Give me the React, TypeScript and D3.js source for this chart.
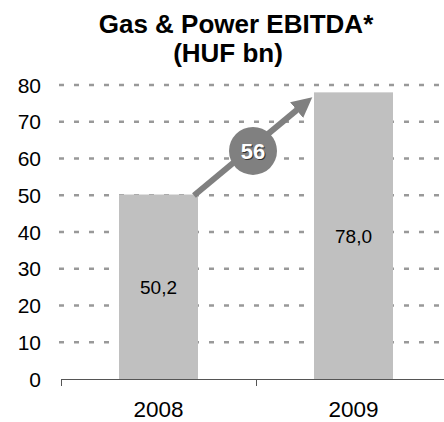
import React, { useEffect, useRef } from "react";
import * as d3 from "d3";

const years = ["2008", "2009"];
const ebitda = [50.2, 78.0];
const valueLabels = ["50,2", "78,0"];
const yTicks = [0, 10, 20, 30, 40, 50, 60, 70, 80];
const growthLabel = "56";
const titleLines = ["Gas & Power EBITDA*", "(HUF bn)"];

const theme = {
  bar: "#c0c0c0",
  grid: "#999999",
  axis: "#555555",
  text: "#000000",
  arrow: "#808080",
  font: "Arial, 'Liberation Sans', sans-serif",
};

const App = () => {
  const svgRef = useRef<SVGSVGElement | null>(null);

  useEffect(() => {
    const width = 444;
    const height = 422;
    const svg = d3.select(svgRef.current);
    svg.selectAll("*").remove();
    svg.attr("width", width).attr("height", height);

    svg.append("rect").attr("width", width).attr("height", height).attr("fill", "#fff");

    // scales: plot runs past the right edge like the original slide
    const x = d3.scaleBand().domain(years).range([61, 451]).paddingInner(0.595).paddingOuter(0.2975);
    const y = d3.scaleLinear().domain([0, 80]).range([379, 85]);

    // title
    svg
      .append("g")
      .selectAll("text")
      .data(titleLines)
      .enter()
      .append("text")
      .attr("x", (d, i) => (i === 0 ? 236 : 228))
      .attr("y", (d, i) => 33 + i * 29)
      .attr("text-anchor", "middle")
      .attr("fill", theme.text)
      .style("font-family", theme.font)
      .style("font-size", "26px")
      .style("font-weight", "bold")
      .text((d) => d);

    // dashed gridlines
    svg
      .append("g")
      .selectAll("line")
      .data(yTicks.filter((t) => t > 0))
      .enter()
      .append("line")
      .attr("x1", 59)
      .attr("x2", width)
      .attr("y1", (d) => y(d))
      .attr("y2", (d) => y(d))
      .attr("stroke", theme.grid)
      .attr("stroke-width", 2.5)
      .attr("stroke-dasharray", "5 10");

    // y labels
    svg
      .append("g")
      .selectAll("text")
      .data(yTicks)
      .enter()
      .append("text")
      .attr("x", 41)
      .attr("y", (d) => y(d) + 7.5)
      .attr("text-anchor", "end")
      .attr("fill", theme.text)
      .style("font-family", theme.font)
      .style("font-size", "21px")
      .text((d) => d);

    // bars
    svg
      .append("g")
      .selectAll("rect")
      .data(ebitda)
      .enter()
      .append("rect")
      .attr("x", (d, i) => x(years[i])!)
      .attr("y", (d) => y(d))
      .attr("width", x.bandwidth())
      .attr("height", (d) => y(0) - y(d))
      .attr("fill", theme.bar);

    // value labels
    svg
      .append("g")
      .selectAll("text")
      .data(ebitda)
      .enter()
      .append("text")
      .attr("x", (d, i) => x(years[i])! + x.bandwidth() / 2)
      .attr("y", (d) => (y(d) + y(0)) / 2 + 7)
      .attr("text-anchor", "middle")
      .attr("fill", theme.text)
      .style("font-family", theme.font)
      .style("font-size", "19px")
      .text((d, i) => valueLabels[i]);

    // x axis
    svg
      .append("line")
      .attr("x1", 61)
      .attr("x2", width)
      .attr("y1", y(0) + 0.5)
      .attr("y2", y(0) + 0.5)
      .attr("stroke", theme.axis)
      .attr("stroke-width", 1);

    const step = x.step();
    svg
      .append("g")
      .selectAll("line")
      .data([61, 61 + step])
      .enter()
      .append("line")
      .attr("x1", (d) => d + 0.5)
      .attr("x2", (d) => d + 0.5)
      .attr("y1", y(0))
      .attr("y2", y(0) + 7)
      .attr("stroke", theme.axis);

    svg
      .append("g")
      .selectAll("text")
      .data(years)
      .enter()
      .append("text")
      .attr("x", (d) => x(d)! + x.bandwidth() / 2)
      .attr("y", 417)
      .attr("text-anchor", "middle")
      .attr("fill", theme.text)
      .style("font-family", theme.font)
      .style("font-size", "22.5px")
      .text((d) => d);

    // growth arrow
    svg
      .append("defs")
      .append("marker")
      .attr("id", "growth-head")
      .attr("viewBox", [0, 0, 10, 10])
      .attr("refX", 6)
      .attr("refY", 5)
      .attr("markerWidth", 3.4)
      .attr("markerHeight", 3.4)
      .attr("orient", "auto")
      .append("path")
      .attr("d", "M 0 0 L 10 5 L 0 10 z")
      .attr("fill", theme.arrow);

    const x0 = x(years[0])! + x.bandwidth() - 4;
    const y0 = y(ebitda[0]) + 1;
    const x1 = x(years[1])! - 8;
    const y1 = y(ebitda[1]) + 10;
    svg
      .append("line")
      .attr("x1", x0)
      .attr("y1", y0)
      .attr("x2", x1)
      .attr("y2", y1)
      .attr("stroke", theme.arrow)
      .attr("stroke-width", 6)
      .attr("marker-end", "url(#growth-head)");

    const cx = (x0 + x1 + 10) / 2 - 2;
    const cy = (y0 + y1) / 2 + 2;
    svg.append("circle").attr("cx", cx).attr("cy", cy).attr("r", 24).attr("fill", theme.arrow);

    svg
      .append("text")
      .attr("x", cx + 1)
      .attr("y", cy + 9)
      .attr("text-anchor", "middle")
      .attr("fill", "#333")
      .style("font-family", theme.font)
      .style("font-size", "22px")
      .style("font-weight", "bold")
      .text(growthLabel);
    svg
      .append("text")
      .attr("x", cx)
      .attr("y", cy + 8)
      .attr("text-anchor", "middle")
      .attr("fill", "#fff")
      .style("font-family", theme.font)
      .style("font-size", "22px")
      .style("font-weight", "bold")
      .text(growthLabel);
  }, []);

  return <svg ref={svgRef} style={{ position: "absolute", left: 0, top: 0 }}></svg>;
};

export default App;
